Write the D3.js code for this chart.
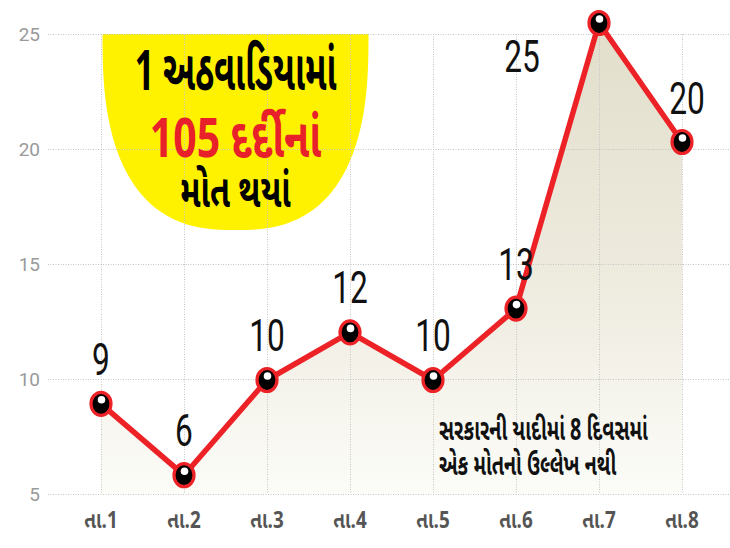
<!DOCTYPE html>
<html><head><meta charset="utf-8">
<script src="https://cdn.jsdelivr.net/npm/d3@7"></script>
<style>
html,body{margin:0;padding:0;background:#fff;}
svg{display:block;}
</style></head>
<body>
<svg id="chart" width="730" height="548"></svg>
<script>
const categories = ["તા.1","તા.2","તા.3","તા.4","તા.5","તા.6","તા.7","તા.8"];
const deaths = [9, 6, 10, 12, 10, 13, 25, 20];
const yTicks = [5, 10, 15, 20, 25];
const badgeLines = ["1 અઠવાડિયામાં", "105 દર્દીનાં", "મોત થયાં"];
const noteLines = ["સરકારની યાદીમાં 8 દિવસમાં", "એક મોતનો ઉલ્લેખ નથી"];

const GUJ = "'Noto Sans Gujarati','Lohit Gujarati','Shruti','Noto Sans',sans-serif";
const NUM = "'Liberation Sans Narrow','Roboto',sans-serif";
const svg = d3.select("#chart");
const x = d3.scalePoint().domain(categories).range([101, 682]);
// printed grid scale and plotted data scale (as drawn in the original)
const yGrid = d3.scaleLinear().domain([5, 25]).range([494, 34]);
const y = d3.scaleLinear().domain([5, 25]).range([499, 23]);

// gradient
const defs = svg.append("defs");
const grad = defs.append("linearGradient").attr("id","areaGrad")
  .attr("gradientUnits","userSpaceOnUse").attr("x1",0).attr("x2",0).attr("y1",y(25)).attr("y2",yGrid(5));
grad.append("stop").attr("offset","0%").attr("stop-color","#e2decb");
grad.append("stop").attr("offset","55%").attr("stop-color","#eeebdf");
grad.append("stop").attr("offset","100%").attr("stop-color","#fcfcf8");

// yellow badge (rounded bowl, flat top on the top grid line)
const bcx = 235.5, ba = 133, bb = 196, btop = yGrid(25), bn = 2.6;
const bpts = d3.range(0, 180.5, 2).map(deg => {
  const t = deg * Math.PI / 180, c = Math.cos(t), s = Math.sin(t);
  return [bcx + ba * Math.sign(c) * Math.pow(Math.abs(c), 2/bn), btop + bb * Math.pow(Math.abs(s), 2/bn)];
});
svg.append("path").attr("d", d3.line()(bpts) + "Z").attr("fill", "#fff200");

// area
const area = d3.area().x((d,i)=>x(categories[i])).y0(yGrid(5)).y1(d=>y(d));
svg.append("path").datum(deaths).attr("d", area).attr("fill","url(#areaGrad)");

// gridlines
const grid = svg.append("g").attr("stroke","#c4c4c4").attr("stroke-width",1).attr("stroke-dasharray","1,1.5");
grid.selectAll("line.h").data(yTicks).join("line").attr("class","h")
  .attr("x1",48).attr("x2",730).attr("y1",d=>yGrid(d)+0.5).attr("y2",d=>yGrid(d)+0.5);
grid.selectAll("line.v").data(categories).join("line").attr("class","v")
  .attr("x1",d=>x(d)+0.5).attr("x2",d=>x(d)+0.5).attr("y1",yGrid(25)).attr("y2",yGrid(5));

// y tick labels
svg.selectAll("text.yt").data(yTicks).join("text").attr("class","yt")
  .attr("x",40).attr("y",d=>yGrid(d)).attr("dy","0.35em").attr("text-anchor","end")
  .attr("font-family",NUM).attr("font-size",19)
  .attr("fill","#9a9a9a").text(d=>d);

// x labels
svg.selectAll("text.xt").data(categories).join("text").attr("class","xt")
  .attr("transform",d=>`translate(${x(d)},528) scale(0.82,1)`).attr("text-anchor","middle")
  .attr("font-family",GUJ).attr("font-size",23).attr("font-weight","bold")
  .attr("fill","#555").text(d=>d);

// line
const line = d3.line().x((d,i)=>x(categories[i])).y(d=>y(d));
svg.append("path").datum(deaths).attr("d", line).attr("fill","none")
  .attr("stroke","#ec2227").attr("stroke-width",5.5).attr("stroke-linejoin","round");

// markers
const mk = svg.selectAll("g.mk").data(deaths).join("g").attr("class","mk")
  .attr("transform",(d,i)=>`translate(${x(categories[i])},${y(d)})`);
mk.append("ellipse").attr("rx",10).attr("ry",11.5).attr("fill","#000").attr("stroke","#ec2227").attr("stroke-width",3.2);
mk.append("circle").attr("cx",0.5).attr("cy",-4).attr("r",3.8).attr("fill","#fff");

// value labels
const lblOff = deaths.map((d,i)=> i===6 ? [-77, 49] : (i===7 ? [5,-28] : [0,-29]));
svg.selectAll("text.val").data(deaths).join("text").attr("class","val")
  .attr("transform",(d,i)=>`translate(${x(categories[i])+lblOff[i][0]},${y(d)+lblOff[i][1]}) scale(0.72,1)`)
  .attr("text-anchor","middle")
  .attr("font-family",NUM).attr("font-size",44)
  .attr("fill","#111").text(d=>d);

// badge text
const badgeY = [90, 157, 207];
const badgeCol = ["#000","#e8202a","#000"];
const badgeSize = [56, 54, 46];
const badgeSx = [0.61, 0.76, 0.7];
svg.selectAll("text.badge").data(badgeLines).join("text").attr("class","badge")
  .attr("transform",(d,i)=>`translate(${bcx},${badgeY[i]}) scale(${badgeSx[i]},1)`)
  .attr("text-anchor","middle").attr("font-family",GUJ).attr("font-weight","bold")
  .attr("font-size",(d,i)=>badgeSize[i]).attr("fill",(d,i)=>badgeCol[i]).text(d=>d);

// note
svg.selectAll("text.note").data(noteLines).join("text").attr("class","note")
  .attr("transform",(d,i)=>`translate(439,${440+i*35}) scale(0.66,1)`)
  .attr("font-family",GUJ).attr("font-weight","bold").attr("font-size",30)
  .attr("fill","#111").text(d=>d);
</script>
</body></html>
